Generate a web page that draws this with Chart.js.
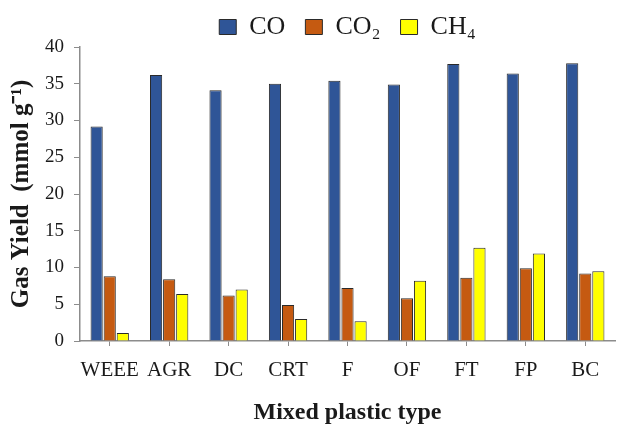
<!DOCTYPE html>
<html>
<head>
<meta charset="utf-8">
<script src="https://cdn.jsdelivr.net/npm/chart.js@4/dist/chart.umd.min.js"></script>
<style>
  html, body { margin: 0; padding: 0; background: #ffffff; }
  #wrap { width: 619px; height: 425px; position: relative; }
</style>
</head>
<body>
<div id="wrap"><canvas id="chart"></canvas></div>
<script>
// Gas yield (mmol per gram) for each mixed plastic type
const plasticTypes = ['WEEE', 'AGR', 'DC', 'CRT', 'F', 'OF', 'FT', 'FP', 'BC'];
const coYield  = [29.2, 36.2, 34.1, 35.0, 35.4, 34.9, 37.7, 36.4, 37.8];
const co2Yield = [8.8, 8.4, 6.2, 4.9, 7.2, 5.8, 8.6, 9.9, 9.2];
const ch4Yield = [1.1, 6.4, 7.0, 3.0, 2.7, 8.2, 12.7, 11.9, 9.5];
const seriesNames = ['CO', 'CO\u2082', 'CH\u2084'];
const yTicks = [0, 5, 10, 15, 20, 25, 30, 35, 40];

const serif = "'Liberation Serif', 'Times New Roman', serif";
const axisGrey = '#8c8c8c';
const ink = '#1a1a1a';

const barStyle = {
  borderColor: '#2a2a2a',
  borderWidth: 1,
  borderSkipped: 'bottom',
  categoryPercentage: 0.66,
  barPercentage: 0.93
};

const chart = new Chart(document.getElementById('chart'), {
  type: 'bar',
  data: {
    labels: plasticTypes,
    datasets: [
      Object.assign({ label: seriesNames[0], data: coYield,  backgroundColor: '#2f5597' }, barStyle),
      Object.assign({ label: seriesNames[1], data: co2Yield, backgroundColor: '#c55a11' }, barStyle),
      Object.assign({ label: seriesNames[2], data: ch4Yield, backgroundColor: '#ffff00' }, barStyle)
    ]
  },
  options: {
    responsive: true,
    maintainAspectRatio: false,
    animation: false,
    layout: { padding: { top: -6, right: 4, left: 4, bottom: -2 } },
    plugins: {
      tooltip: { enabled: false },
      legend: {
        position: 'top',
        fullSize: false,
        labels: {
          color: ink,
          font: { family: serif, size: 26 },
          boxWidth: 17,
          boxHeight: 15,
          padding: 20,
          useBorderRadius: false
        }
      }
    },
    scales: {
      x: {
        offset: true,
        afterFit: (scale) => { scale.height = 86; },
        grid: {
          offset: false,
          drawOnChartArea: false,
          drawTicks: true,
          tickLength: 5,
          color: axisGrey
        },
        border: { color: axisGrey, width: 1.5 },
        ticks: {
          color: ink,
          font: { family: serif, size: 21 },
          padding: 12,
          maxRotation: 0,
          autoSkip: false
        },
        title: {
          display: true,
          text: 'Mixed plastic type',
          color: ink,
          font: { family: serif, size: 24, weight: 'bold' },
          padding: { top: 12, bottom: 0 }
        }
      },
      y: {
        min: 0,
        max: 40,
        afterFit: (scale) => { scale.width = 76; },
        afterBuildTicks: (scale) => { scale.ticks = yTicks.map(v => ({ value: v })); },
        grid: {
          drawOnChartArea: false,
          drawTicks: true,
          tickLength: 6,
          color: axisGrey
        },
        border: { color: axisGrey, width: 1.5 },
        ticks: {
          color: ink,
          font: { family: serif, size: 19 },
          padding: 10
        },
        title: {
          display: true,
          text: 'Gas Yield  (mmol g\u207B\u00B9)',
          color: ink,
          font: { family: serif, size: 25, weight: 'bold' },
          padding: { top: 3, bottom: 4 }
        }
      }
    }
  }
});

// Tighten the gap between the legend row and the plot
const legendBox = chart.legend;
const baseFit = legendBox.fit;
legendBox.fit = function () {
  baseFit.apply(this, arguments);
  this.height -= 3;
};
chart.update();
</script>
</body>
</html>
